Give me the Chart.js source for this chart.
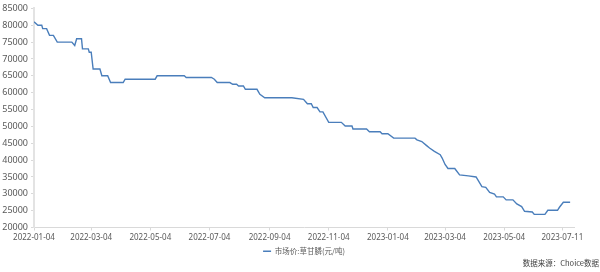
<!DOCTYPE html>
<html>
<head>
<meta charset="utf-8">
<script src="https://cdn.jsdelivr.net/npm/chart.js@4.4.0/dist/chart.umd.min.js"></script>
<style>
    html, body { margin: 0; padding: 0; background: #fff; }
    #wrap { position: relative; width: 600px; height: 272px; }
</style>
</head>
<body>
<div id="wrap">
    <canvas id="glyphosate" width="600" height="272"></canvas>
</div>
<script>
    "use strict";

    // days counted from 2022-01-04
    var days = [0, 4, 8, 9, 13, 16, 20, 24, 39, 42, 44, 49, 50, 56, 57, 59, 61, 68, 70, 76, 79, 92, 94,
        125, 127, 155, 157, 183, 186, 189, 202, 205, 209, 211, 216, 218, 230, 233, 238, 266, 278,
        282, 286, 288, 292, 295, 298, 304, 317, 321, 328, 329, 343, 346, 357, 359, 365, 371, 393,
        395, 400, 405, 408, 413, 419, 421, 424, 427, 434, 439, 448, 456, 462, 466, 470, 475, 477,
        484, 487, 494, 498, 503, 506, 514, 516, 527, 530, 540, 542, 546, 553];

    var prices = [81000, 80000, 80000, 79000, 79000, 77000, 77000, 75000, 75000, 74000, 76000, 76000,
        73000, 73000, 72000, 72000, 67000, 67000, 65000, 65000, 63000, 63000, 64000,
        64000, 65000, 65000, 64500, 64500, 64000, 63000, 63000, 62500, 62500, 62000, 62000, 61000,
        61000, 59500, 58500, 58500, 58000,
        56700, 56700, 55600, 55600, 54300, 54300, 51200, 51200, 50100, 50100, 49200, 49200, 48400,
        48400, 47800, 47800, 46500, 46500,
        46000, 45500, 44300, 43600, 42600, 41600, 40600, 38700, 37500, 37500, 35600, 35300, 35000,
        32100, 31900, 30400, 29900, 29100,
        29100, 28200, 28200, 27000, 26200, 24800, 24600, 23900, 23900, 25100, 25100, 26000, 27500, 27500];

    var tickDays = [0, 59, 120, 181, 243, 304, 365, 424, 485, 545];
    var tickLabels = ['2022-01-04', '2022-03-04', '2022-05-04', '2022-07-04', '2022-09-04',
        '2022-11-04', '2023-01-04', '2023-03-04', '2023-05-04', '2023-07-11'];

    var seriesName = '市场价:草甘膦(元/吨)';
    var sourceText = '数据来源：Choice数据';

    var points = days.map(function (d, i) {
        return { x: d, y: prices[i] };
    });

    // source note in the bottom right corner
    var sourceNote = {
        id: 'sourceNote',
        afterDraw: function (chart) {
            var ctx = chart.ctx;
            ctx.save();
            ctx.font = "7.5px 'Noto Sans CJK SC', 'Noto Sans', sans-serif";
            ctx.fillStyle = '#404040';
            ctx.textAlign = 'right';
            ctx.textBaseline = 'middle';
            ctx.fillText(sourceText, chart.width - 1, chart.height - 9);
            ctx.restore();
        }
    };

    var ctx = document.getElementById('glyphosate').getContext('2d');
    var myChart = new Chart(ctx, {
        type: 'line',
        data: {
            datasets: [{
                label: seriesName,
                data: points,
                borderColor: '#4A7EBB',
                backgroundColor: '#4A7EBB',
                borderWidth: 1.4,
                pointRadius: 0,
                tension: 0,
                fill: false
            }]
        },
        options: {
            responsive: false,
            animation: false,
            layout: { padding: { left: 0, right: 26, top: 0, bottom: 7 } },
            scales: {
                x: {
                    type: 'linear',
                    min: 0,
                    max: 557,
                    afterBuildTicks: function (scale) {
                        scale.ticks = tickDays.map(function (d) { return { value: d }; });
                    },
                    afterFit: function (scale) { scale.height = 16; },
                    ticks: {
                        autoSkip: false,
                        maxRotation: 0,
                        padding: 2,
                        color: '#595959',
                        font: { family: "'Noto Sans', sans-serif", size: 8 },
                        callback: function (value) {
                            var i = tickDays.indexOf(value);
                            return i >= 0 ? tickLabels[i] : '';
                        }
                    },
                    grid: { drawOnChartArea: false, drawTicks: true, tickLength: 3, color: '#d9d9d9' },
                    border: { display: true, color: '#d9d9d9', width: 1 }
                },
                y: {
                    min: 20000,
                    max: 85000,
                    afterFit: function (scale) { scale.width = 34; },
                    ticks: {
                        stepSize: 5000,
                        padding: 3,
                        color: '#595959',
                        font: { family: "'Noto Sans', sans-serif", size: 9 },
                        callback: function (value) { return value; }
                    },
                    grid: { drawOnChartArea: false, drawTicks: true, tickLength: 3, color: '#d9d9d9' },
                    border: { display: true, color: '#e3e3e3', width: 2 }
                }
            },
            plugins: {
                legend: {
                    position: 'bottom',
                    fullSize: false,
                    labels: {
                        usePointStyle: true,
                        pointStyle: 'line',
                        pointStyleWidth: 8,
                        padding: 4,
                        color: '#595959',
                        font: { family: "'Noto Sans CJK SC', 'Noto Sans', sans-serif", size: 7.5 }
                    }
                },
                tooltip: { enabled: false }
            }
        },
        plugins: [sourceNote]
    });
</script>
</body>
</html>
